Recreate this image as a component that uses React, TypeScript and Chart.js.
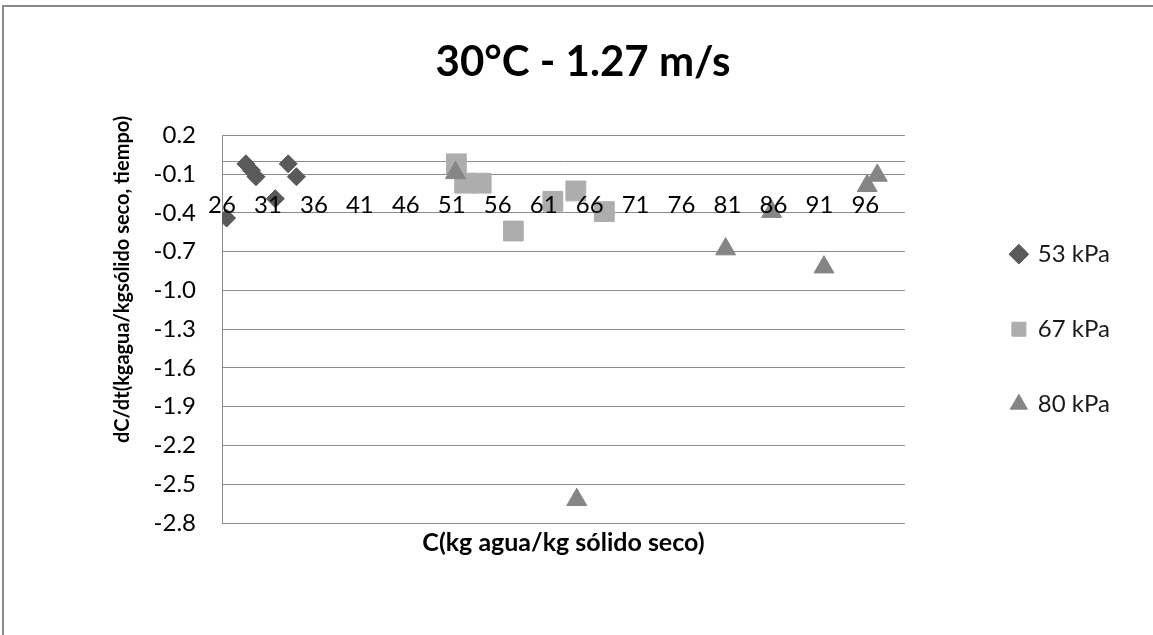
import React, { useEffect, useRef } from 'react';
import { Chart, registerables } from 'chart.js';

Chart.register(...registerables);

const chartTitle = '30°C - 1.27 m/s';
const xAxisTitle = 'C(kg agua/kg sólido seco)';
const yAxisTitle = 'dC/dt(kgagua/kgsólido seco, tiempo)';

const xTickValues = [26, 31, 36, 41, 46, 51, 56, 61, 66, 71, 76, 81, 86, 91, 96];
const yTickValues = [-2.8, -2.5, -2.2, -1.9, -1.6, -1.3, -1.0, -0.7, -0.4, -0.1, 0.2];

const seriesNames = ['53 kPa', '67 kPa', '80 kPa'];

const x53 = [26.5, 28.6, 29.2, 29.7, 31.8, 33.2, 34.1];
const y53 = [-0.44, -0.02, -0.07, -0.12, -0.29, -0.02, -0.12];

const x67 = [51.5, 52.4, 54.2, 57.7, 62.0, 64.5, 67.6];
const y67 = [-0.02, -0.17, -0.17, -0.54, -0.31, -0.23, -0.39];

const x80 = [51.4, 64.6, 80.8, 85.8, 91.5, 96.2, 97.3];
const y80 = [-0.09, -2.62, -0.68, -0.39, -0.82, -0.19, -0.11];

const FONT = "Lato, 'Open Sans', sans-serif";
const GRID = '#8c8c8c';

const toPoints = (xs: number[], ys: number[]) => xs.map((x, i) => ({ x, y: ys[i] }));

const yTitlePlugin = {
  id: 'yTitle',
  afterDraw(chart: any) {
    const { ctx, chartArea } = chart;
    ctx.save();
    ctx.font = `bold 20px ${FONT}`;
    ctx.fillStyle = '#000';
    ctx.textAlign = 'center';
    ctx.textBaseline = 'middle';
    ctx.translate(chartArea.left - 99, chartArea.top + 144);
    ctx.rotate(-Math.PI / 2);
    ctx.fillText(yAxisTitle, 0, 0);
    ctx.restore();
  },
};

export default function App() {
  const ref = useRef<HTMLCanvasElement | null>(null);

  useEffect(() => {
    if (!ref.current) return;
    const chart = new Chart(ref.current, {
      type: 'scatter',
      data: {
        datasets: [
          {
            label: seriesNames[0],
            data: toPoints(x53, y53),
            pointStyle: 'rectRot',
            pointRadius: 9,
            backgroundColor: '#5a5a5a',
            borderColor: '#5a5a5a',
            borderWidth: 1,
            order: 2,
          },
          {
            label: seriesNames[1],
            data: toPoints(x67, y67),
            pointStyle: 'rect',
            pointRadius: 14,
            backgroundColor: '#adadad',
            borderColor: '#adadad',
            borderWidth: 1,
            order: 1,
          },
          {
            label: seriesNames[2],
            data: toPoints(x80, y80),
            pointStyle: 'triangle',
            pointRadius: 11.5,
            backgroundColor: '#858585',
            borderColor: '#858585',
            borderWidth: 1,
            order: 0,
          },
        ],
      },
      options: {
        responsive: false,
        animation: false,
        layout: { padding: { left: 46, right: 33, top: 0, bottom: 77 } },
        plugins: {
          title: {
            display: true,
            text: chartTitle,
            color: '#000',
            font: { family: FONT, size: 42, weight: 'bold' },
            padding: { top: 37, bottom: 48 },
          },
          legend: {
            position: 'right',
            fullSize: false,
            align: 'center',
            labels: {
              usePointStyle: true,
              boxHeight: 14,
              boxWidth: 14,
              padding: 51,
              color: '#1a1a1a',
              font: { family: FONT, size: 24 },
              sort: (a: any, b: any) => a.datasetIndex - b.datasetIndex,
            },
          },
          tooltip: { enabled: false },
        },
        scales: {
          x: {
            type: 'linear',
            position: { y: 0 },
            min: 26,
            max: 100.3,
            afterBuildTicks: (s: any) => {
              s.ticks = xTickValues.map((v) => ({ value: v }));
            },
            grid: { display: false, drawTicks: false },
            border: { display: true, color: GRID, width: 1 },
            ticks: {
              z: 1,
              padding: 30,
              autoSkip: false,
              maxRotation: 0,
              color: '#000',
              font: { family: FONT, size: 24 },
              callback: (v: any) => String(v),
            },
          },
          x2: {
            type: 'linear',
            position: 'bottom',
            min: 26,
            max: 100.3,
            ticks: { display: false },
            grid: { display: false, drawTicks: false },
            border: { display: false },
            title: {
              display: true,
              text: xAxisTitle,
              color: '#000',
              font: { family: FONT, size: 25, weight: 'bold' },
              padding: { top: 5, bottom: 0 },
            },
          },
          y: {
            type: 'linear',
            position: 'left',
            min: -2.8,
            max: 0.2,
            afterBuildTicks: (s: any) => {
              s.ticks = yTickValues.map((v) => ({ value: v }));
            },
            afterFit: (s: any) => {
              s.width = 176;
            },
            grid: { color: GRID, drawTicks: false },
            border: { color: GRID },
            ticks: {
              padding: 26,
              color: '#000',
              font: { family: FONT, size: 24 },
              callback: (v: any) => Number(v).toFixed(1),
            },
          },
          gap: {
            type: 'linear',
            position: 'right',
            display: true,
            ticks: { display: false },
            grid: { display: false, drawTicks: false },
            border: { display: false },
            afterFit: (s: any) => {
              s.width = 56;
            },
          },
        },
      } as any,
      plugins: [yTitlePlugin],
    });
    return () => chart.destroy();
  }, []);

  return (
    <div
      style={{
        position: 'fixed',
        left: 0,
        top: 0,
        width: 1153,
        height: 635,
        background: '#fff',
        overflow: 'hidden',
      }}
    >
      <div
        style={{
          position: 'absolute',
          left: 2,
          top: 5,
          width: 1200,
          height: 700,
          borderTop: '2px solid #8a8a8a',
          borderLeft: '2px solid #8a8a8a',
        }}
      />
      <canvas
        ref={ref}
        width={1153}
        height={635}
        style={{ position: 'absolute', left: 0, top: 0 }}
      />
    </div>
  );
}
